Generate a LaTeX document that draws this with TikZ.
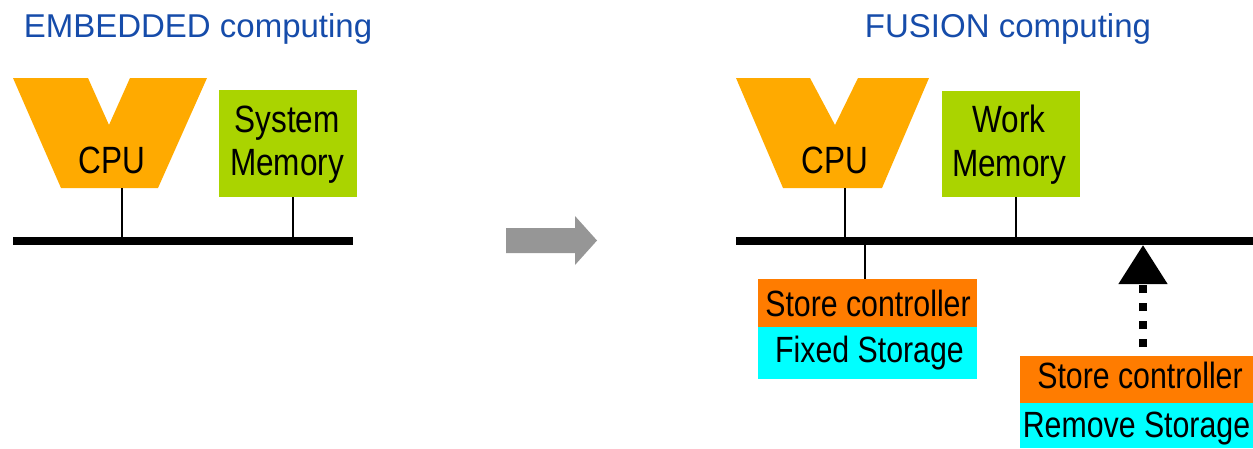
\documentclass[tikz,border=0pt]{standalone}
\usepackage{fontspec}
\setmainfont{Liberation Sans}
\newfontfamily\condfont{Liberation Sans}[FakeStretch=0.83]
\usetikzlibrary{arrows.meta}
\definecolor{cpuorange}{RGB}{255,170,0}
\definecolor{memgreen}{RGB}{170,212,0}
\definecolor{ctrlorange}{RGB}{255,124,0}
\definecolor{storcyan}{RGB}{0,255,255}
\definecolor{titleblue}{RGB}{22,76,170}
\definecolor{arrowgray}{RGB}{150,150,150}
\tikzset{
  title/.style={anchor=base, inner sep=0pt, text=titleblue, font=\fontsize{33}{38}\selectfont},
  bigtxt/.style={anchor=base, inner sep=0pt, font=\condfont\fontsize{38}{43}\selectfont},
  smalltxt/.style={anchor=base, inner sep=0pt, font=\condfont\fontsize{36.5}{42}\selectfont},
  boxshape/.style={rectangle, inner sep=0pt, outer sep=0pt, draw=none},
  membox/.style={boxshape, fill=memgreen},
  ctrlbox/.style={boxshape, fill=ctrlorange},
  storbox/.style={boxshape, fill=storcyan},
  bus/.style={line width=8pt},
  wire/.style={line width=1.6pt},
  cpushape/.style={fill=cpuorange},
}
\begin{document}
\begin{tikzpicture}[x=1pt,y=-1pt]
\useasboundingbox (0,0) rectangle (1253,448);

% titles
\node[title] (t1) at (198,37) {EMBEDDED computing};
\node[title] (t2) at (1008,37) {FUSION computing};

% ---------------- left: embedded ----------------
\fill[cpushape] (13,78) -- (88,78) -- (109,125) -- (130,78) -- (207,78) -- (158,188) -- (61,188) -- cycle;
\coordinate (cpuLb) at (122,188);
\node[bigtxt] (cpuLt) at (112,173) {CPU};

\node[membox, minimum width=138pt, minimum height=107pt] (smem) at (288,143.5) {};
\node[bigtxt] (smem1) at (287,132) {System};
\node[bigtxt] (smem2) at (287,175) {Memory};

\coordinate (busLa) at (13,241);
\coordinate (busLb) at (353,241);
\draw[bus] (busLa) -- (busLb);
\draw[wire] (cpuLb) -- (cpuLb |- busLa);
\draw[wire] (smem.south -| 293,0) -- (293,241);

% gray arrow
\fill[arrowgray] (506,228) -- (575,228) -- (575,216) -- (597,240.5) -- (575,265) -- (575,253) -- (506,253) -- cycle;

% ---------------- right: fusion ----------------
\fill[cpushape] (736,78) -- (810,78) -- (835,125) -- (858,78) -- (929,78) -- (882,188) -- (783,188) -- cycle;
\coordinate (cpuRb) at (845,188);
\node[bigtxt] (cpuRt) at (835,173) {CPU};

\node[membox, minimum width=138pt, minimum height=106pt] (wmem) at (1011,144) {};
\node[bigtxt] (wmem1) at (1009,132) {Work};
\node[bigtxt] (wmem2) at (1009,176) {Memory};

\coordinate (busRa) at (736,241);
\coordinate (busRb) at (1253,241);
\draw[bus] (busRa) -- (busRb);
\draw[wire] (cpuRb) -- (cpuRb |- busRa);
\draw[wire] (wmem.south -| 1016,0) -- (1016,241);

% fixed storage
\node[ctrlbox, minimum width=219pt, minimum height=48pt] (ctrl1) at (867.5,303) {};
\node[storbox, minimum width=219pt, minimum height=52pt] (stor1) at (867.5,353) {};
\node[smalltxt] (ctrl1t) at (868,316) {Store controller};
\node[smalltxt] (stor1t) at (869.5,362) {Fixed Storage};
\draw[wire] (865,241) -- (ctrl1.north -| 865,0);

% removable storage
\node[ctrlbox, minimum width=233pt, minimum height=47pt] (ctrl2) at (1136.5,379.5) {};
\node[storbox, minimum width=233pt, minimum height=45pt] (stor2) at (1136.5,425.5) {};
\node[smalltxt] (ctrl2t) at (1140,388) {Store controller};
\node[smalltxt] (stor2t) at (1136.5,437) {Remove Storage};

\coordinate (rmtop) at (1143,347);
\coordinate (busTip) at (1143,245);
\draw[line width=8pt, dash pattern=on 8pt off 10pt, -{Triangle[length=39pt,width=47pt]}] (rmtop) -- (busTip);
\end{tikzpicture}
\end{document}
